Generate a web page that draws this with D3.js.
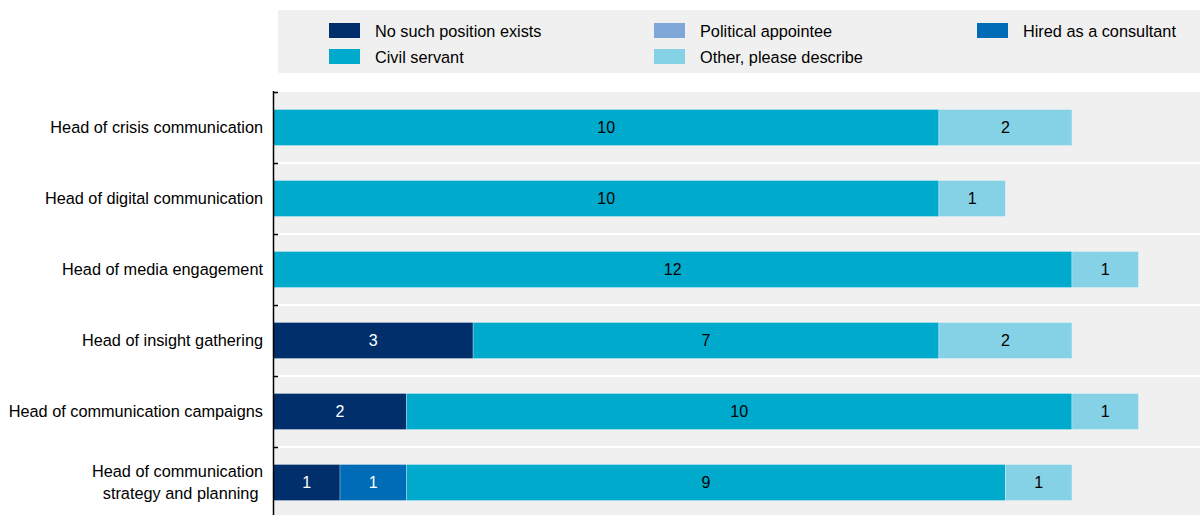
<!DOCTYPE html>
<meta charset="utf-8">
<style>
body { margin: 0; background: #fff; }
text { font-family: "Liberation Sans", Arial, sans-serif; }
</style>
<svg width="1200" height="515"></svg>
<script src="https://d3js.org/d3.v7.min.js"></script>
<script>
var categories = [
  ["Head of crisis communication"],
  ["Head of digital communication"],
  ["Head of media engagement"],
  ["Head of insight gathering"],
  ["Head of communication campaigns"],
  ["Head of communication", "strategy and planning\u00a0"]
];
var seriesNames = ["No such position exists", "Political appointee", "Hired as a consultant", "Civil servant", "Other, please describe"];
var seriesColors = ["#002f6c", "#7fa7d8", "#006bb6", "#00aacc", "#85d1e5"];
var labelColors = ["#fff", "#fff", "#fff", "#000", "#000"];

var noSuchPosition = [0, 0, 0, 3, 2, 1];
var politicalAppointee = [0, 0, 0, 0, 0, 0];
var hiredConsultant = [0, 0, 0, 0, 0, 1];
var civilServant = [10, 10, 12, 7, 10, 9];
var otherDescribe = [2, 1, 1, 2, 1, 1];

var values = [noSuchPosition, politicalAppointee, hiredConsultant, civilServant, otherDescribe];

var svg = d3.select("svg");

var rows = categories.map(function(c, i) {
  var r = { key: i };
  seriesNames.forEach(function(s, j) { r[s] = values[j][i]; });
  return r;
});

var stack = d3.stack().keys(seriesNames)(rows);

var x = d3.scaleLinear().domain([0, 14]).range([273.5, 1205]);
var y = d3.scaleBand().domain(d3.range(categories.length)).range([92, 518]);
var barH = 36;

// plot background
svg.append("rect")
    .attr("x", 273).attr("y", 92)
    .attr("width", 1200 - 273).attr("height", 515 - 92)
    .attr("fill", "#f0f0f0");

// band separators
svg.append("g").selectAll("line")
  .data(d3.range(1, categories.length))
  .enter().append("line")
    .attr("x1", 273).attr("x2", 1200)
    .attr("y1", function(i) { return y(i); })
    .attr("y2", function(i) { return y(i); })
    .attr("stroke", "#fff")
    .attr("stroke-width", 2);

// bars
var layer = svg.append("g").selectAll("g")
  .data(stack)
  .enter().append("g")
    .attr("fill", function(d, i) { return seriesColors[i]; });

layer.selectAll("rect")
  .data(function(d) { return d; })
  .enter().append("rect")
    .attr("x", function(d) { return x(d[0]); })
    .attr("y", function(d, i) { return y(i) + (y.bandwidth() - barH) / 2; })
    .attr("width", function(d) { return x(d[1]) - x(d[0]); })
    .attr("height", barH)
    .attr("stroke", "#fff")
    .attr("stroke-opacity", 0.35)
    .attr("stroke-width", 0.8);

layer.each(function(s, si) {
  d3.select(this).selectAll("text")
    .data(s.filter(function(d) { return d[1] - d[0] > 0; }))
    .enter().append("text")
      .attr("x", function(d) { return (x(d[0]) + x(d[1])) / 2; })
      .attr("y", function(d) { return y(d.data.key) + y.bandwidth() / 2; })
      .attr("dy", "0.35em")
      .attr("text-anchor", "middle")
      .attr("font-size", 16)
      .attr("fill", labelColors[si])
      .text(function(d) { return d[1] - d[0]; });
});

// axis
var axis = svg.append("g");
axis.append("line")
    .attr("x1", 273.5).attr("x2", 273.5)
    .attr("y1", 91).attr("y2", 515)
    .attr("stroke", "#000").attr("stroke-width", 1.5);
axis.selectAll(".tick")
  .data(d3.range(0, categories.length))
  .enter().append("line")
    .attr("x1", 273.5).attr("x2", 278)
    .attr("y1", function(i) { return y(i) + 0.5; })
    .attr("y2", function(i) { return y(i) + 0.5; })
    .attr("stroke", "#000").attr("stroke-width", 1.5);

// category labels
svg.append("g").selectAll("text")
  .data(categories)
  .enter().append("text")
    .attr("text-anchor", "end")
    .attr("font-size", 16.3)
    .attr("fill", "#000")
    .attr("y", function(d, i) { return y(i) + y.bandwidth() / 2 - (d.length - 1) * 11; })
    .each(function(d) {
      var t = d3.select(this);
      d.forEach(function(line, k) {
        t.append("tspan")
          .attr("x", 263)
          .attr("dy", k === 0 ? "0.35em" : 22)
          .text(line);
      });
    });

// legend
svg.append("rect")
    .attr("x", 278).attr("y", 10)
    .attr("width", 1200 - 278).attr("height", 63)
    .attr("fill", "#f0f0f0");

var legendPos = [[329, 23], [654, 23], [977, 23], [329, 49], [654, 49]];
var legendOrder = [0, 1, 2, 3, 4];
var lg = svg.append("g").selectAll("g")
  .data(legendOrder)
  .enter().append("g")
    .attr("transform", function(d, i) { return "translate(" + legendPos[i][0] + "," + legendPos[i][1] + ")"; });
lg.append("rect")
    .attr("width", 31).attr("height", 15)
    .attr("fill", function(d) { return seriesColors[d]; });
lg.append("text")
    .attr("x", 46).attr("y", 8.5)
    .attr("dy", "0.35em")
    .attr("font-size", 16.3)
    .attr("fill", "#000")
    .text(function(d) { return seriesNames[d]; });
</script>
